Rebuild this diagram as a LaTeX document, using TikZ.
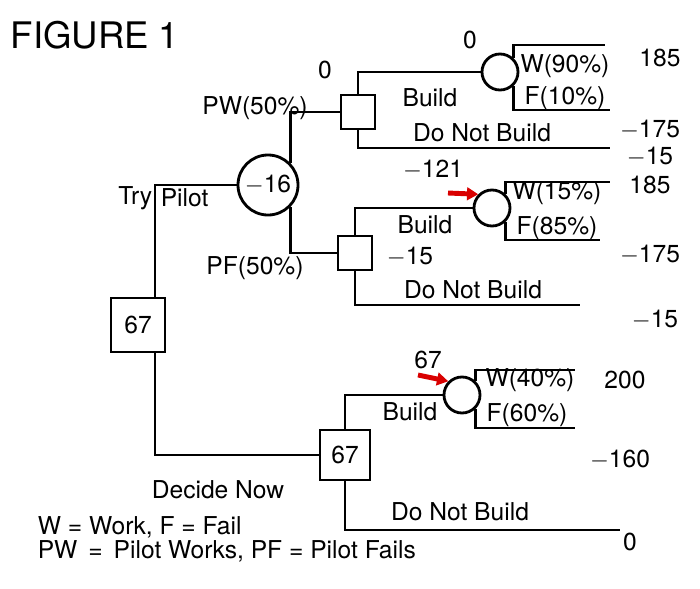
\documentclass[tikz,border=0pt]{standalone}
\usepackage{fontspec}
\setmainfont{TeX Gyre Heros}
\usetikzlibrary{arrows.meta}

\begin{document}
\begin{tikzpicture}[x=0.025cm,y=-0.025cm, line width=2pt,
	every node/.style={font=\fontsize{17.5}{19}\selectfont},
	dec/.style={draw, minimum size=0.85cm, inner sep=0pt},
	chn/.style={draw, circle, inner sep=0pt},
	lbl/.style={inner sep=1pt},
	hint/.style={-{Triangle[length=8pt,width=9pt]}, red!85!black, line width=3.5pt}]
	\useasboundingbox (0,0) rectangle (700,588);
	\node at (95,35) [font=\fontsize{26}{28}\selectfont] (fig) {FIGURE 1};

	% decision and chance nodes
	\node at (138,325) [dec, minimum size=1.35cm] (d0) {67};
	\node at (268,185) [chn, minimum size=1.5cm] (c1) {$-$16};
	\node at (358,112) [dec] (d1) {};
	\node at (355,253) [dec] (d2) {};
	\node at (345,455) [dec, minimum size=1.25cm] (d3) {67};
	\node at (500,72) [chn, minimum size=0.9cm] (c2) {};
	\node at (492,208) [chn, minimum size=0.9cm] (c3) {};
	\node at (462,395) [chn, minimum size=0.9cm] (c4) {};

	% end points
	\coordinate (w1) at (605,45);   \coordinate (f1) at (610,110);
	\coordinate (n1) at (610,148);
	\coordinate (w2) at (610,182);  \coordinate (f2) at (600,240);
	\coordinate (n2) at (580,305);
	\coordinate (w3) at (575,370);  \coordinate (f3) at (575,428);
	\coordinate (n3) at (620,530);

	% branches
	\draw (d0.north -| 155,0) |- (c1.west);
	\draw (c1.north east) -- ++(0,-5) |- (d1.west);
	\draw (c1.south east) -- ++(0,5) |- (d2.west);
	\draw (d1.north) |- (c2.west);
	\draw (d1.south) |- (n1);
	\draw (c2.north east) |- (w1);
	\draw (c2.south east) |- (f1);
	\draw (d2.north) |- (c3.west);
	\draw (d2.south) |- (n2);
	\draw (c3.north east) |- (w2);
	\draw (c3.south east) |- (f2);
	\draw (d0.south -| 155,0) |- (d3.west);
	\draw (d3.north) |- (c4.west);
	\draw (d3.south) |- (n3);
	\draw (c4.north east) |- (w3);
	\draw (c4.south east) |- (f3);

	% labels
	\node at (155,198) [lbl, anchor=east] (try) {Try};
	\node at (158,198) [lbl, anchor=west] (pilot) {Pilot};
	\node at (255,108) [lbl] (pw) {PW(50\%)};
	\node at (255,268) [lbl] (pf) {PF(50\%)};
	\node at (325,70) [lbl] (v0a) {0};
	\node at (470,40) [lbl] (v0b) {0};
	\node at (430,98) [lbl] (b1) {Build};
	\node at (482,133) [lbl] (nb1) {Do Not Build};
	\node at (565,66) [lbl] (pw1) {W(90\%)};
	\node at (565,98) [lbl] (pf1) {F(10\%)};
	\node at (660,58) [lbl] (r1) {185};
	\node at (650,130) [lbl] (r2) {$-$175};
	\node at (650,157) [lbl] (r3) {$-$15};
	\node at (433,170) [lbl] (v121) {$-$121};
	\node at (425,225) [lbl] (b2) {Build};
	\node at (410,257) [lbl] (v15) {$-$15};
	\node at (473,290) [lbl] (nb2) {Do Not Build};
	\node at (557,193) [lbl] (pw2) {W(15\%)};
	\node at (557,228) [lbl] (pf2) {F(85\%)};
	\node at (650,185) [lbl] (r4) {185};
	\node at (650,255) [lbl] (r5) {$-$175};
	\node at (655,320) [lbl] (r6) {$-$15};
	\node at (428,360) [lbl] (v67) {67};
	\node at (410,412) [lbl] (b3) {Build};
	\node at (460,512) [lbl] (nb3) {Do Not Build};
	\node at (530,380) [lbl] (pw3) {W(40\%)};
	\node at (527,415) [lbl] (pf3) {F(60\%)};
	\node at (625,380) [lbl] (r7) {200};
	\node at (620,460) [lbl] (r8) {$-$160};
	\node at (630,542) [lbl] (r9) {0};
	\node at (218,490) [lbl] (dn) {Decide Now};
	\node at (35,527) [lbl, anchor=west] (lg1) {W = Work, F = Fail};
	\node at (35,551) [lbl, anchor=west] (lg2) {PW \,=\, Pilot Works, PF = Pilot Fails};

	% hints
	\draw [hint] (448,193) -- (c3.north west);
	\draw [hint] (418,375) -- (c4.north west);
\end{tikzpicture}
\end{document}
